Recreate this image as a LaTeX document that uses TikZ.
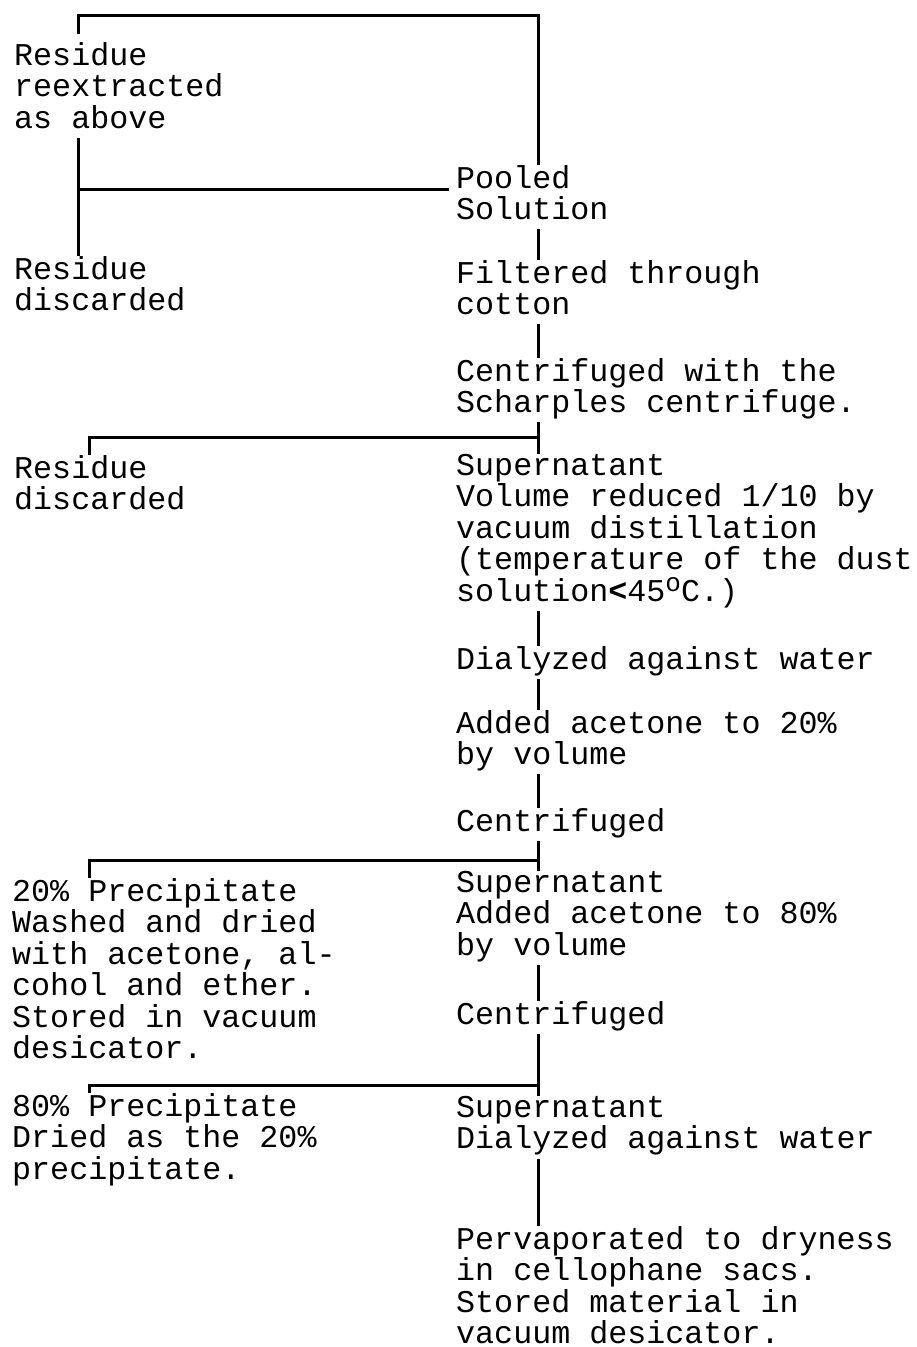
\documentclass[tikz,border=0pt]{standalone}
\usepackage{fontspec}
\newfontfamily\typewriter{Liberation Mono}
\newcommand{\tw}{\typewriter\fontsize{31.7}{31.5}\selectfont}
\newcommand{\degr}{\raisebox{.3em}{\fontsize{26}{26}\selectfont o}}
\tikzset{stage/.style={anchor=north west, inner sep=0pt, align=left, font=\tw, execute at begin node=\strut},
  flow/.style={line width=3pt}}
\begin{document}
\begin{tikzpicture}[x=1pt,y=-1pt]
\useasboundingbox (0,0) rectangle (917,1347);
% left column
\node[stage] (res1) at (14,42) {Residue\\reextracted\\as above};
\node[stage] (res2) at (14,256) {Residue\\discarded};
\node[stage] (res3) at (14,455) {Residue\\discarded};
\node[stage] (pre20) at (12,878) {20\% Precipitate\\Washed and dried\\with acetone, al-\\cohol and ether.\\Stored in vacuum\\desicator.};
\node[stage] (pre80) at (12,1093) {80\% Precipitate\\Dried as the 20\%\\precipitate.};
% right column
\node[stage] (pooled) at (456,165) {Pooled\\Solution};
\node[stage] (filtered) at (456,260) {Filtered through\\cotton};
\node[stage] (centri1) at (456,358) {Centrifuged with the\\Scharples centrifuge.};
\node[stage] (super1) at (456,454) {Supernatant\\Volume reduced 1/10 by\\vacuum distillation\\(temperature of the dust\\solution\textbf{<}45\degr C.)};
\node[stage] (dialyzed1) at (456,646) {Dialyzed against water};
\node[stage] (added20) at (456,710) {Added acetone to 20\%\\by volume};
\node[stage] (centri2) at (456,808) {Centrifuged};
\node[stage] (super2) at (456,871) {Supernatant\\Added acetone to 80\%\\by volume};
\node[stage] (centri3) at (456,1001) {Centrifuged};
\node[stage] (super3) at (456,1096) {Supernatant\\Dialyzed against water};
\node[stage] (perva) at (456,1226) {Pervaporated to dryness\\in cellophane sacs.\\Stored material in\\vacuum desicator.};
% lines
\coordinate (spine) at (538,0);
\coordinate (left) at (78,0);
\coordinate (tick) at (89,0);
\coordinate (top) at (78,15);
\coordinate (pool) at (78,189);
\coordinate (cut1) at (538,437);
\coordinate (cut2) at (538,860);
\coordinate (cut3) at (538,1085);
\draw[flow,shorten <=8pt] (res1.north -| left) -- (top) -- (top -| spine) -- (pooled.north -| spine);
\draw[flow] (res1.south -| left) -- (res2.north -| left);
\draw[flow,shorten >=7pt] (pool) -- (pool -| pooled.west);
\draw[flow] (pooled.south -| spine) -- (filtered.north -| spine);
\draw[flow] (filtered.south -| spine) -- (centri1.north -| spine);
\draw[flow] (centri1.south -| spine) -- (super1.north -| spine);
\draw[flow] (cut1) -- (cut1 -| tick) -- (res3.north -| tick);
\draw[flow] (super1.south -| spine) -- (dialyzed1.north -| spine);
\draw[flow] (dialyzed1.south -| spine) -- (added20.north -| spine);
\draw[flow] (added20.south -| spine) -- (centri2.north -| spine);
\draw[flow] (centri2.south -| spine) -- (super2.north -| spine);
\draw[flow] (cut2) -- (cut2 -| tick) -- (pre20.north -| tick);
\draw[flow] (super2.south -| spine) -- (centri3.north -| spine);
\draw[flow] (centri3.south -| spine) -- (super3.north -| spine);
\draw[flow] (cut3) -- (cut3 -| tick) -- (pre80.north -| tick);
\draw[flow] (super3.south -| spine) -- (perva.north -| spine);
\end{tikzpicture}
\end{document}
